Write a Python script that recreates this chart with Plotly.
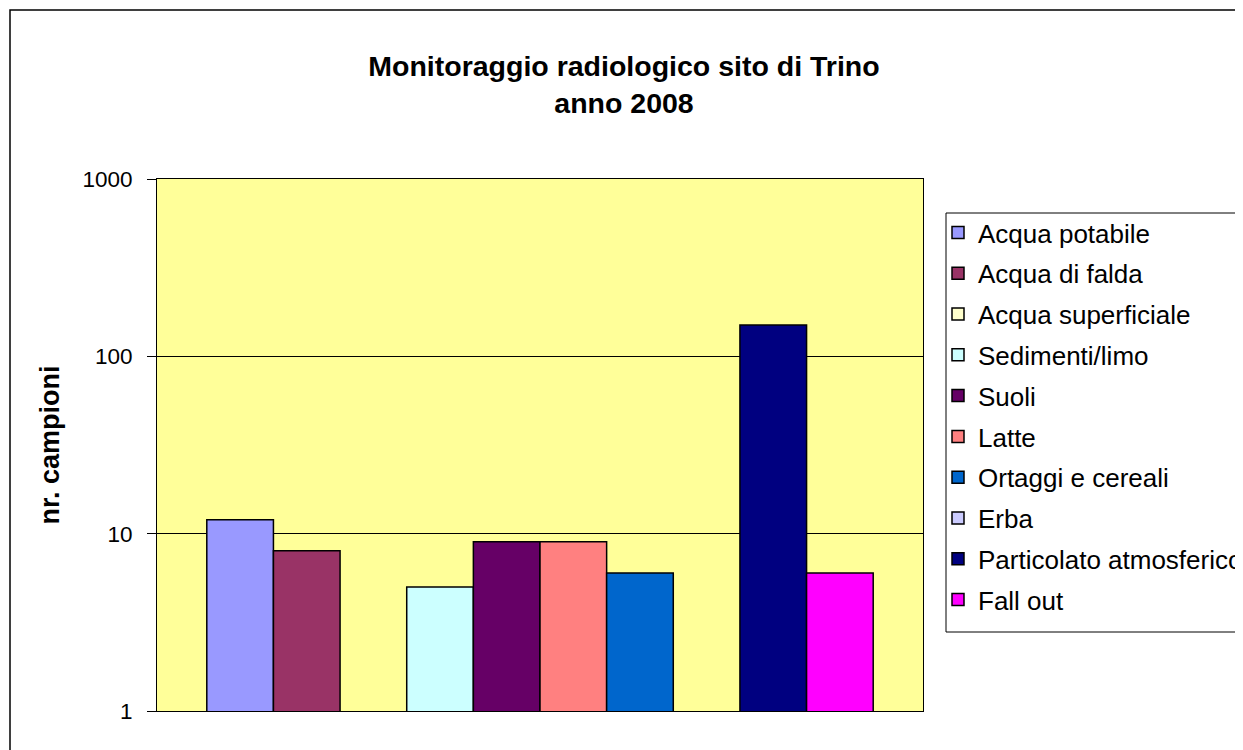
import plotly.graph_objects as go

categories = [""]
series_names = ["Acqua potabile", "Acqua di falda", "Acqua superficiale", "Sedimenti/limo",
                "Suoli", "Latte", "Ortaggi e cereali", "Erba",
                "Particolato atmosferico", "Fall out"]
series_values = [12, 8, None, 5, 9, 9, 6, None, 150, 6]
series_colors = ["#9999FF", "#993366", "#FFFFCC", "#CCFFFF", "#660066",
                 "#FF8080", "#0066CC", "#CCCCFF", "#000080", "#FF00FF"]
y_tickvals = [1, 10, 100, 1000]
y_ticktext = ["1", "10", "100", "1000"]

FONT = "Arial, 'Liberation Sans', sans-serif"

fig = go.Figure()
for name, val, col in zip(series_names, series_values, series_colors):
    fig.add_trace(go.Bar(
        x=categories, y=[val], name=name, legendgroup=name,
        marker=dict(color=col, line=dict(color="black", width=1.5)),
    ))

# page is offset by the default 8px body margin
OFF = 8
W, H = 1243, 750
L = 157 - OFF
T = 179 - OFF
R = W - (923 - OFF)
B = H - (711 - OFF)
pw = W - L - R
ph = H - T - B

def px(x):  # page x -> paper
    return (x - OFF - L) / pw

def py(y):  # page y -> paper
    return (H - B - (y - OFF)) / ph

fig.update_layout(
    width=W, height=H,
    margin=dict(l=L, r=R, t=T, b=B, autoexpand=False),
    paper_bgcolor="white",
    plot_bgcolor="#FFFF99",
    barmode="group", bargap=0.13, bargroupgap=0,
    font=dict(family=FONT, color="black"),
    title=dict(text="<b>Monitoraggio radiologico sito di Trino<br>anno 2008</b>",
               x=(624 - OFF) / W, xref="container", xanchor="center",
               y=1 - (76 - OFF) / H, yref="container", yanchor="middle",
               font=dict(size=28.5, family=FONT, color="black")),
    xaxis=dict(showticklabels=False, ticks="", showline=True, linecolor="black",
               linewidth=1, mirror=True, showgrid=False, zeroline=False),
    yaxis=dict(type="log", range=[0, 3], tickvals=y_tickvals, ticktext=y_ticktext,
               ticks="outside", ticklen=9, tickcolor="black", ticklabelstandoff=10,
               showline=True, linecolor="black", linewidth=1, mirror=True,
               showgrid=True, gridcolor="black", gridwidth=1,
               tickfont=dict(size=22.5, family=FONT),
               title=dict(text="<b>nr. campioni</b>", font=dict(size=27, family=FONT), standoff=14)),
    legend=dict(x=px(938), xanchor="left", y=py(209), yanchor="top",
                bgcolor="rgba(0,0,0,0)", borderwidth=0,
                font=dict(size=26, family=FONT), tracegroupgap=4,
                itemclick=False),
    showlegend=True,
    shapes=[
        dict(type="rect", xref="paper", yref="paper",
             x0=px(946), x1=px(1300), y0=py(632), y1=py(213),
             line=dict(color="black", width=1), fillcolor="rgba(0,0,0,0)", layer="above"),
        dict(type="rect", xref="paper", yref="paper",
             x0=px(10), x1=px(1300), y0=py(800), y1=py(10),
             line=dict(color="black", width=1.5), fillcolor="rgba(0,0,0,0)", layer="above"),
    ],
)

fig.write_html("out.html")
